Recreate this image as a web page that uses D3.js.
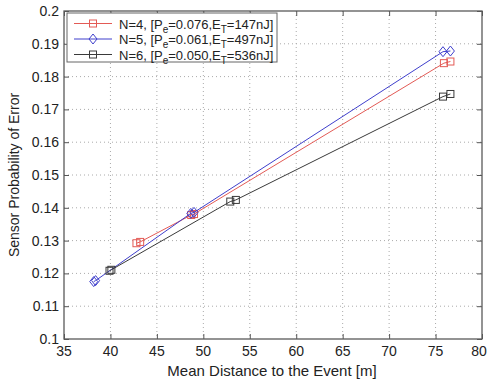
<!DOCTYPE html>
<html>
<head>
<meta charset="utf-8">
<script src="https://cdn.jsdelivr.net/npm/d3@7"></script>
<style>
  body { margin: 0; background: #fff; }
  text { font-family: "Liberation Sans", Arial, sans-serif; fill: #222; }
</style>
</head>
<body>
<svg id="chart" width="488" height="383"></svg>
<script>
// values
const xTicks = [35, 40, 45, 50, 55, 60, 65, 70, 75, 80];
const yTicks = [0.1, 0.11, 0.12, 0.13, 0.14, 0.15, 0.16, 0.17, 0.18, 0.19, 0.2];

const n4x = [42.8, 43.2, 48.7, 49.0, 75.9, 76.6];
const n4y = [0.1292, 0.1296, 0.1378, 0.1381, 0.1841, 0.1846];
const n5x = [38.2, 38.4, 48.65, 49.0, 75.8, 76.6];
const n5y = [0.1175, 0.1178, 0.1383, 0.1386, 0.1876, 0.1878];
const n6x = [39.9, 40.1, 52.9, 53.5, 75.8, 76.6];
const n6y = [0.1208, 0.1211, 0.1419, 0.1424, 0.1739, 0.1747];

const series = [
  {x: n4x, y: n4y, color: '#e35a55', marker: 'square', pe: '0.076', et: '147nJ', n: 4},
  {x: n5x, y: n5y, color: '#3f3fcc', marker: 'diamond', pe: '0.061', et: '497nJ', n: 5},
  {x: n6x, y: n6y, color: '#3a3a3a', marker: 'square', pe: '0.050', et: '536nJ', n: 6}
];

const svg = d3.select('#chart');
const mLeft = 64, mRight = 482, mTop = 11, mBottom = 339;

const x = d3.scaleLinear().domain([35, 80]).range([mLeft, mRight]);
const y = d3.scaleLinear().domain([0.1, 0.2]).range([mBottom, mTop]);

// grid
const grid = svg.append('g');
grid.selectAll('.vg').data(xTicks.slice(1, -1)).enter().append('line')
  .attr('x1', d => x(d)).attr('x2', d => x(d))
  .attr('y1', mTop).attr('y2', mBottom)
  .attr('stroke', '#aaa').attr('stroke-width', 1).attr('stroke-dasharray', '1,3');
grid.selectAll('.hg').data(yTicks.slice(1, -1)).enter().append('line')
  .attr('y1', d => y(d)).attr('y2', d => y(d))
  .attr('x1', mLeft).attr('x2', mRight)
  .attr('stroke', '#aaa').attr('stroke-width', 1).attr('stroke-dasharray', '1,3');

// axes, ticks pointing inward like the matlab box
const tickFmt = d => String(+d.toFixed(2));
svg.append('g').attr('transform', `translate(0,${mBottom})`)
  .call(d3.axisTop(x).tickValues(xTicks).tickSize(5).tickFormat(''))
  .call(g => g.select('.domain').remove());
svg.append('g').attr('transform', `translate(0,${mTop})`)
  .call(d3.axisBottom(x).tickValues(xTicks).tickSize(5).tickFormat(''))
  .call(g => g.select('.domain').remove());
svg.append('g').attr('transform', `translate(${mLeft},0)`)
  .call(d3.axisRight(y).tickValues(yTicks).tickSize(5).tickFormat(''))
  .call(g => g.select('.domain').remove());
svg.append('g').attr('transform', `translate(${mRight},0)`)
  .call(d3.axisLeft(y).tickValues(yTicks).tickSize(5).tickFormat(''))
  .call(g => g.select('.domain').remove());
svg.selectAll('.tick line').attr('stroke', '#555');

svg.append('rect')
  .attr('x', mLeft).attr('y', mTop)
  .attr('width', mRight - mLeft).attr('height', mBottom - mTop)
  .attr('fill', 'none').attr('stroke', '#5a5a5a').attr('stroke-width', 1.3);

// tick labels
svg.append('g').selectAll('text').data(xTicks).enter().append('text')
  .attr('x', d => Math.min(x(d), 479)).attr('y', mBottom + 17)
  .attr('text-anchor', 'middle').attr('font-size', 14)
  .text(d => d);
svg.append('g').selectAll('text').data(yTicks).enter().append('text')
  .attr('x', mLeft - 5).attr('y', d => y(d) + 5)
  .attr('text-anchor', 'end').attr('font-size', 14)
  .text(tickFmt);

// axis titles
svg.append('text')
  .attr('x', 272).attr('y', 376)
  .attr('text-anchor', 'middle').attr('font-size', 15)
  .text('Mean Distance to the Event [m]');
svg.append('text')
  .attr('transform', `translate(19,${(mTop + mBottom) / 2}) rotate(-90)`)
  .attr('text-anchor', 'middle').attr('font-size', 14)
  .text('Sensor Probability of Error');

function drawMarker(g, type, cx, cy, color) {
  if (type === 'square') {
    g.append('rect').attr('x', cx - 3.5).attr('y', cy - 3.5)
      .attr('width', 7).attr('height', 7)
      .attr('fill', 'none').attr('stroke', color).attr('stroke-width', 1);
  } else {
    g.append('path')
      .attr('d', `M${cx},${cy - 5}L${cx + 4},${cy}L${cx},${cy + 5}L${cx - 4},${cy}Z`)
      .attr('fill', 'none').attr('stroke', color).attr('stroke-width', 1);
  }
}

const line = d3.line().x(d => x(d[0])).y(d => y(d[1]));
series.forEach(s => {
  const pts = s.x.map((v, i) => [v, s.y[i]]);
  const g = svg.append('g');
  g.append('path').datum(pts).attr('d', line)
    .attr('fill', 'none').attr('stroke', s.color).attr('stroke-width', 1);
  pts.forEach(p => drawMarker(g, s.marker, x(p[0]), y(p[1]), s.color));
});

// legend
const lg = svg.append('g');
lg.append('rect').attr('x', 67).attr('y', 13).attr('width', 210).attr('height', 49)
  .attr('fill', '#fff').attr('stroke', '#666').attr('stroke-width', 1);
series.forEach((s, i) => {
  const ry = 23.5 + i * 15.5;
  lg.append('line').attr('x1', 74).attr('x2', 112).attr('y1', ry).attr('y2', ry)
    .attr('stroke', s.color).attr('stroke-width', 1);
  drawMarker(lg, s.marker, 93, ry, s.color);
  const t = lg.append('text').attr('x', 119).attr('y', ry + 5).attr('font-size', 13);
  t.append('tspan').text(`N=${s.n}, [P`);
  t.append('tspan').attr('dy', 4).attr('font-size', 10).text('e');
  t.append('tspan').attr('dy', -4).text(`=${s.pe},E`);
  t.append('tspan').attr('dy', 4).attr('font-size', 10).text('T');
  t.append('tspan').attr('dy', -4).text(`=${s.et}]`);
});
</script>
</body>
</html>
